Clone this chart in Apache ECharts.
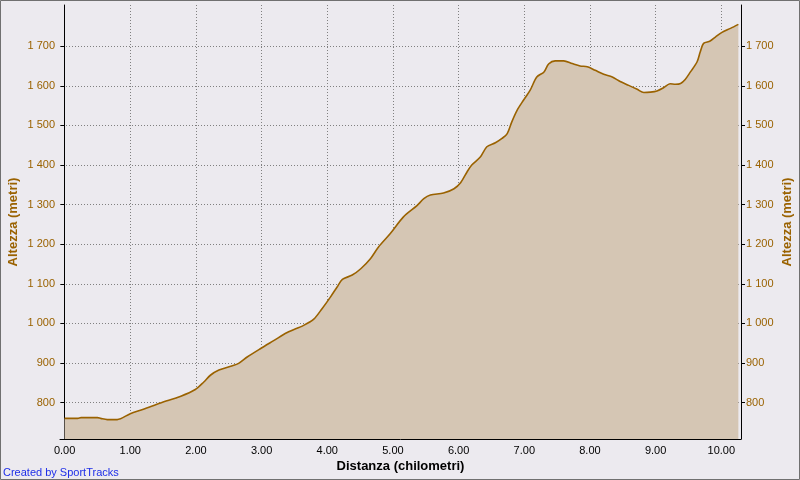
<!DOCTYPE html>
<html>
<head>
<meta charset="utf-8">
<script src="https://cdn.jsdelivr.net/npm/echarts@6/dist/echarts.min.js"></script>
<style>
html,body{margin:0;padding:0;background:#ECEAEF;}
#c{width:800px;height:480px;}
</style>
</head>
<body>
<div id="c"></div>
<script>
const distanceKm = [0, 0.2, 0.25, 0.5, 0.55, 0.65, 0.8, 1.0, 1.2, 1.46, 1.77, 1.99, 2.12, 2.22, 2.35, 2.53, 2.65, 2.78, 2.98, 3.19, 3.39, 3.64, 3.79, 3.92, 4.05, 4.15, 4.23, 4.38, 4.51, 4.66, 4.78, 4.96, 5.16, 5.37, 5.47, 5.57, 5.77, 5.93, 6.03, 6.13, 6.2, 6.33, 6.43, 6.56, 6.66, 6.74, 6.81, 6.89, 6.99, 7.09, 7.19, 7.30, 7.37, 7.47, 7.60, 7.73, 7.85, 7.96, 8.08, 8.21, 8.34, 8.46, 8.59, 8.72, 8.82, 8.92, 9.02, 9.12, 9.22, 9.30, 9.38, 9.45, 9.53, 9.63, 9.68, 9.73, 9.83, 9.91, 10.01, 10.14, 10.26];
const altitudeM = [760, 760, 762, 762, 760, 757, 757, 772, 783, 799, 816, 833, 852, 869, 882, 892, 899, 915, 936, 957, 977, 995, 1010, 1037, 1067, 1092, 1111, 1122, 1138, 1164, 1193, 1227, 1269, 1298, 1315, 1324, 1329, 1340, 1355, 1383, 1400, 1420, 1446, 1456, 1467, 1479, 1509, 1538, 1564, 1589, 1622, 1635, 1655, 1663, 1663, 1656, 1650, 1648, 1639, 1629, 1622, 1611, 1601, 1591, 1583, 1584, 1587, 1595, 1605, 1604, 1606, 1616, 1635, 1660, 1686, 1707, 1713, 1723, 1735, 1745, 1755];
const xTicks = [0, 1, 2, 3, 4, 5, 6, 7, 8, 9, 10];
const yTicks = [800, 900, 1000, 1100, 1200, 1300, 1400, 1500, 1600, 1700];

const brown = '#9A6200';
const fmtY = v => { const s = String(Math.round(v)); return s.length > 3 ? s.slice(0, s.length - 3) + ' ' + s.slice(-3) : s; };
const font = 'Liberation Sans';

const chart = echarts.init(document.getElementById('c'), null, {renderer: 'canvas'});
const yAxisBase = (pos) => ({
  type: 'value', position: pos, min: 708, max: 1804,
  name: 'Altezza (metri)', nameLocation: 'middle', nameRotate: 90,
  nameGap: 40, nameMoveOverlap: false,
  nameTextStyle: {color: brown, fontWeight: 'bold', fontSize: 13, fontFamily: font},
  axisLine: {show: true, lineStyle: {color: '#000', width: 1}},
  axisTick: {show: true, length: 4, customValues: yTicks, lineStyle: {color: '#000'}},
  axisLabel: {customValues: yTicks, color: brown, fontSize: 11, fontFamily: font, margin: 5, formatter: fmtY},
  splitLine: {show: pos === 'left', lineStyle: {color: '#808080', type: [1, 2], width: 1}}
});
chart.setOption({
  backgroundColor: '#ECEAEF',
  animation: false,
  grid: {left: 60, right: 59, top: 5, bottom: 41, outerBoundsMode: 'none', containLabel: false},
  xAxis: {
    type: 'value', min: -0.07, max: 10.30,
    name: 'Distanza (chilometri)', nameLocation: 'middle', nameGap: 21, nameMoveOverlap: false,
    nameTextStyle: {color: '#000', fontWeight: 'bold', fontSize: 13, fontFamily: font},
    axisLine: {show: true, onZero: false, lineStyle: {color: '#000', width: 1}},
    axisTick: {show: false, customValues: xTicks},
    axisLabel: {customValues: xTicks, color: '#000', fontSize: 11, fontFamily: font, margin: 6, formatter: v => v.toFixed(2)},
    splitLine: {show: true, lineStyle: {color: '#808080', type: [1, 2], width: 1}}
  },
  yAxis: [yAxisBase('left'), yAxisBase('right')],
  title: {
    text: 'Created by SportTracks', left: 3, bottom: 2, padding: 0,
    textStyle: {color: '#1E2EE8', fontSize: 11, fontWeight: 'normal', fontFamily: font}
  },
  graphic: [{type: 'rect', shape: {x: 0.5, y: 0.5, width: 799, height: 479}, style: {fill: 'none', stroke: '#707070', lineWidth: 1}, silent: true}],
  series: [{
    type: 'line', yAxisIndex: 0,
    data: distanceKm.map((d, i) => [d, altitudeM[i]]),
    showSymbol: false, smooth: 0.3,
    lineStyle: {color: brown, width: 1.6},
    areaStyle: {color: '#D5C6B4', opacity: 1, origin: 'start'}
  }]
});
</script>
</body>
</html>
